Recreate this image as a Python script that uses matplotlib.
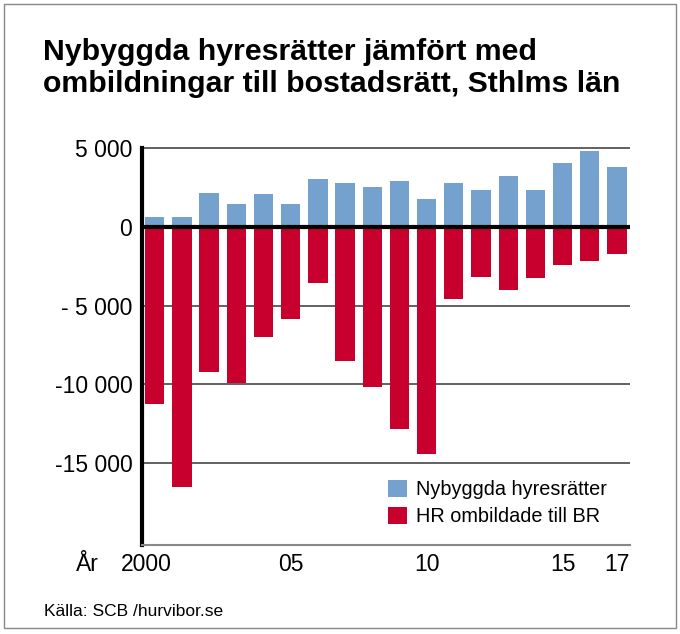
import matplotlib.pyplot as plt
from matplotlib.patches import Rectangle
import numpy as np

plt.rcParams['font.family'] = ['Liberation Sans', 'DejaVu Sans']

years = list(range(2000, 2018))
nybyggda = [640, 640, 2170, 1450, 2070, 1490, 3040, 2790, 2530, 2940,
            1770, 2810, 2360, 3230, 2340, 4050, 4830, 3790]
ombildade = [-11240, -16530, -9230, -9900, -7000, -5860, -3580, -8490, -10140,
             -12830, -14430, -4550, -3150, -3980, -3240, -2390, -2160, -1690]
yticks = [5000, 0, -5000, -10000, -15000]
ytick_labels = ['5 000', '0', '- 5 000', '-10 000', '-15 000']
xticks = [2005, 2010, 2015, 2017]
xtick_labels = ['05', '10', '15', '17']

blue = '#74a1cd'
red = '#c8002d'

fig = plt.figure(figsize=(6.8, 6.34), dpi=100)
ax = fig.add_axes([0.2088, 0.1404, 0.7176, 0.6270])

ax.bar(years, nybyggda, width=0.71, color=blue, label='Nybyggda hyresrätter', zorder=3)
ax.bar(years, ombildade, width=0.71, color=red, label='HR ombildade till BR', zorder=3)

ax.set_xlim(years[0] - 0.47, years[-1] + 0.48)
ax.set_ylim(-20200, 5050)

for y in yticks:
    if y == 0:
        ax.axhline(0, color='black', lw=3, zorder=4)
    else:
        ax.axhline(y, color='#555555', lw=1.3, zorder=1)

for s in ['top', 'right']:
    ax.spines[s].set_visible(False)
ax.spines['left'].set_linewidth(3)
ax.spines['left'].set_bounds(-20200, 5000)
ax.spines['bottom'].set_color('#888888')
ax.spines['bottom'].set_linewidth(1.5)

ax.set_yticks(yticks)
ax.set_yticklabels(ytick_labels, fontsize=16.5)
ax.set_xticks(xticks)
ax.set_xticklabels(xtick_labels, fontsize=16.5)
ax.tick_params(length=0, pad=7)
ax.tick_params(axis='x', pad=6)

# first year label sits a bit left of its bar, with "År" in front
ax.annotate('2000', xy=(years[0], 0), xycoords=('data', 'axes fraction'),
            xytext=(-5.8, -6), textcoords='offset points', ha='center', va='top',
            fontsize=16.5, annotation_clip=False)
ax.annotate('År', xy=(years[0], 0), xycoords=('data', 'axes fraction'),
            xytext=(-56.5, -6), textcoords='offset points', ha='left', va='top',
            fontsize=16.5, annotation_clip=False)

leg = ax.legend(loc='lower left', bbox_to_anchor=(0.488, 0.027), frameon=False,
                fontsize=14.3, handlelength=0.95, handleheight=0.95,
                handletextpad=0.45, labelspacing=0.4, borderaxespad=0)

fig.text(0.063, 0.94, 'Nybyggda hyresrätter jämfört med\nombildningar till bostadsrätt, Sthlms län',
         fontsize=21.8, fontweight='bold', va='top', ha='left', linespacing=1.2)
fig.text(0.064, 0.036, 'Källa: SCB /hurvibor.se', fontsize=12.5, va='center', ha='left')

fig.patches.append(Rectangle((0.006, 0.009), 0.988, 0.985, transform=fig.transFigure,
                             fill=False, edgecolor='#888888', lw=1))

fig.savefig('out.png', dpi=100)
